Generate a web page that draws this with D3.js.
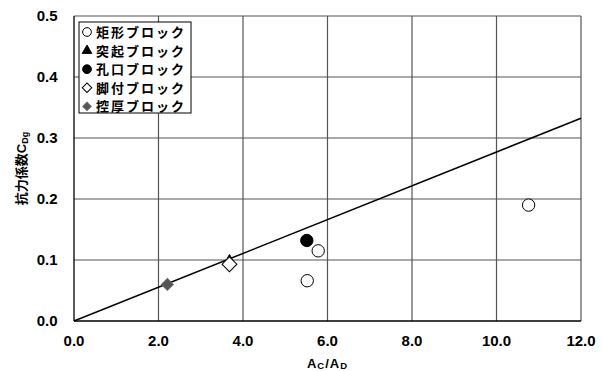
<!DOCTYPE html>
<html>
<head>
<meta charset="utf-8">
<script src="https://d3js.org/d3.v7.min.js"></script>
<style>
  body { margin: 0; background: #fff; }
  text { font-family: "Liberation Sans", Arial, "Noto Sans CJK JP", sans-serif; font-weight: bold; }
</style>
</head>
<body>
<div id="chart"></div>
<script>
// data
var xTicks = [0, 2, 4, 6, 8, 10, 12];
var yTicks = [0, 0.1, 0.2, 0.3, 0.4, 0.5];
var seriesNames = ["矩形ブロック", "突起ブロック", "孔口ブロック", "脚付ブロック", "控厚ブロック"];
var rectBlock = [[5.52, 0.066], [5.78, 0.115], [10.76, 0.190]];
var bumpBlock = [[3.68, 0.097]];
var holeBlock = [[5.51, 0.132]];
var footBlock = [[3.68, 0.093]];
var thickBlock = [[2.21, 0.060]];
var fitSlope = 0.0277;
var fitX = [0, 12];

var W = 602, H = 371;
var margin = {left: 74, right: 21, top: 16, bottom: 50};

var svg = d3.select("#chart").append("svg")
    .attr("width", W).attr("height", H);

var x = d3.scaleLinear().domain([0, 12]).range([margin.left, W - margin.right]);
var y = d3.scaleLinear().domain([0, 0.5]).range([H - margin.bottom, margin.top]);

// grid
svg.append("g").selectAll("line.v")
    .data(xTicks.slice(1))
    .enter().append("line")
    .attr("x1", function(d) { return x(d); })
    .attr("x2", function(d) { return x(d); })
    .attr("y1", y(0)).attr("y2", y(0.5))
    .attr("stroke", "#555").attr("stroke-width", 1.2);

svg.append("g").selectAll("line.h")
    .data(yTicks.slice(1))
    .enter().append("line")
    .attr("x1", x(0)).attr("x2", x(12))
    .attr("y1", function(d) { return y(d); })
    .attr("y2", function(d) { return y(d); })
    .attr("stroke", "#555").attr("stroke-width", 1.2);

// axes lines
svg.append("line").attr("x1", x(0)).attr("x2", x(0)).attr("y1", y(0)).attr("y2", y(0.5))
    .attr("stroke", "#000").attr("stroke-width", 1.3);
svg.append("line").attr("x1", x(0)).attr("x2", x(12)).attr("y1", y(0)).attr("y2", y(0))
    .attr("stroke", "#000").attr("stroke-width", 1.3);

// tick labels
svg.append("g").selectAll("text")
    .data(yTicks)
    .enter().append("text")
    .attr("x", 57.5).attr("y", function(d) { return y(d); })
    .attr("dy", "0.36em")
    .attr("text-anchor", "end")
    .attr("font-size", 15)
    .text(function(d) { return d.toFixed(1); });

svg.append("g").selectAll("text")
    .data(xTicks)
    .enter().append("text")
    .attr("x", function(d) { return x(d); })
    .attr("y", 345.5)
    .attr("text-anchor", "middle")
    .attr("font-size", 15)
    .text(function(d) { return d.toFixed(1); });

// axis titles
var xt = svg.append("text")
    .attr("x", (x(0) + x(12)) / 2).attr("y", 368)
    .attr("text-anchor", "middle")
    .attr("font-family", "'Liberation Sans Narrow', 'Liberation Sans', sans-serif")
    .attr("font-size", 13)
    .attr("letter-spacing", 1);
xt.append("tspan").text("A");
xt.append("tspan").attr("font-size", 9.5).attr("dy", 1).text("C");
xt.append("tspan").attr("dy", -1).text("/A");
xt.append("tspan").attr("font-size", 9.5).attr("dy", 1).text("D");

var yt = svg.append("text")
    .attr("transform", "translate(25.5," + ((y(0) + y(0.5)) / 2) + ") rotate(-90)")
    .attr("text-anchor", "middle")
    .attr("font-size", 13);
yt.append("tspan").text("抗力係数C");
yt.append("tspan").attr("font-size", 9).attr("dy", 2).text("Dg");

// fit line
svg.append("line")
    .attr("x1", x(fitX[0])).attr("y1", y(fitX[0] * fitSlope))
    .attr("x2", x(fitX[1])).attr("y2", y(fitX[1] * fitSlope))
    .attr("stroke", "#000").attr("stroke-width", 1.5);

// markers
var sym = {
  circle: d3.symbol().type(d3.symbolCircle).size(120),
  tri: d3.symbol().type(d3.symbolTriangle).size(70),
  diamond: d3.symbol().type(d3.symbolSquare).size(110),
  smallDiamond: d3.symbol().type(d3.symbolSquare).size(70)
};
var styles = [
  {data: rectBlock, shape: "circle", fill: "#fff", stroke: "#000", rot: 0},
  {data: bumpBlock, shape: "tri", fill: "#000", stroke: "#000", rot: 0},
  {data: holeBlock, shape: "circle", fill: "#000", stroke: "#000", rot: 0},
  {data: footBlock, shape: "diamond", fill: "#fff", stroke: "#000", rot: 45},
  {data: thickBlock, shape: "smallDiamond", fill: "#555", stroke: "#666", rot: 45}
];

styles.forEach(function(s) {
  svg.append("g").selectAll("path")
    .data(s.data)
    .enter().append("path")
    .attr("d", sym[s.shape])
    .attr("transform", function(d) { return "translate(" + x(d[0]) + "," + y(d[1]) + ") rotate(" + s.rot + ")"; })
    .attr("fill", s.fill).attr("stroke", s.stroke).attr("stroke-width", 1);
});

// legend
var lg = svg.append("g");
lg.append("rect").attr("x", 79).attr("y", 22).attr("width", 112).attr("height", 91)
    .attr("fill", "#fff").attr("stroke", "#000").attr("stroke-width", 1);

var legSym = {
  circle: d3.symbol().type(d3.symbolCircle).size(60),
  tri: d3.symbol().type(d3.symbolTriangle).size(40),
  diamond: d3.symbol().type(d3.symbolSquare).size(45),
  smallDiamond: d3.symbol().type(d3.symbolSquare).size(35)
};
seriesNames.forEach(function(name, i) {
  var s = styles[i];
  var cy = 32 + i * 18.6;
  lg.append("path")
    .attr("d", legSym[s.shape])
    .attr("transform", "translate(87," + cy + ") rotate(" + s.rot + ")")
    .attr("fill", s.fill).attr("stroke", s.stroke).attr("stroke-width", 1);
  lg.append("text")
    .attr("x", 96).attr("y", cy).attr("dy", "0.38em")
    .attr("font-size", 13)
    .attr("letter-spacing", 2)
    .text(name);
});
</script>
</body>
</html>
